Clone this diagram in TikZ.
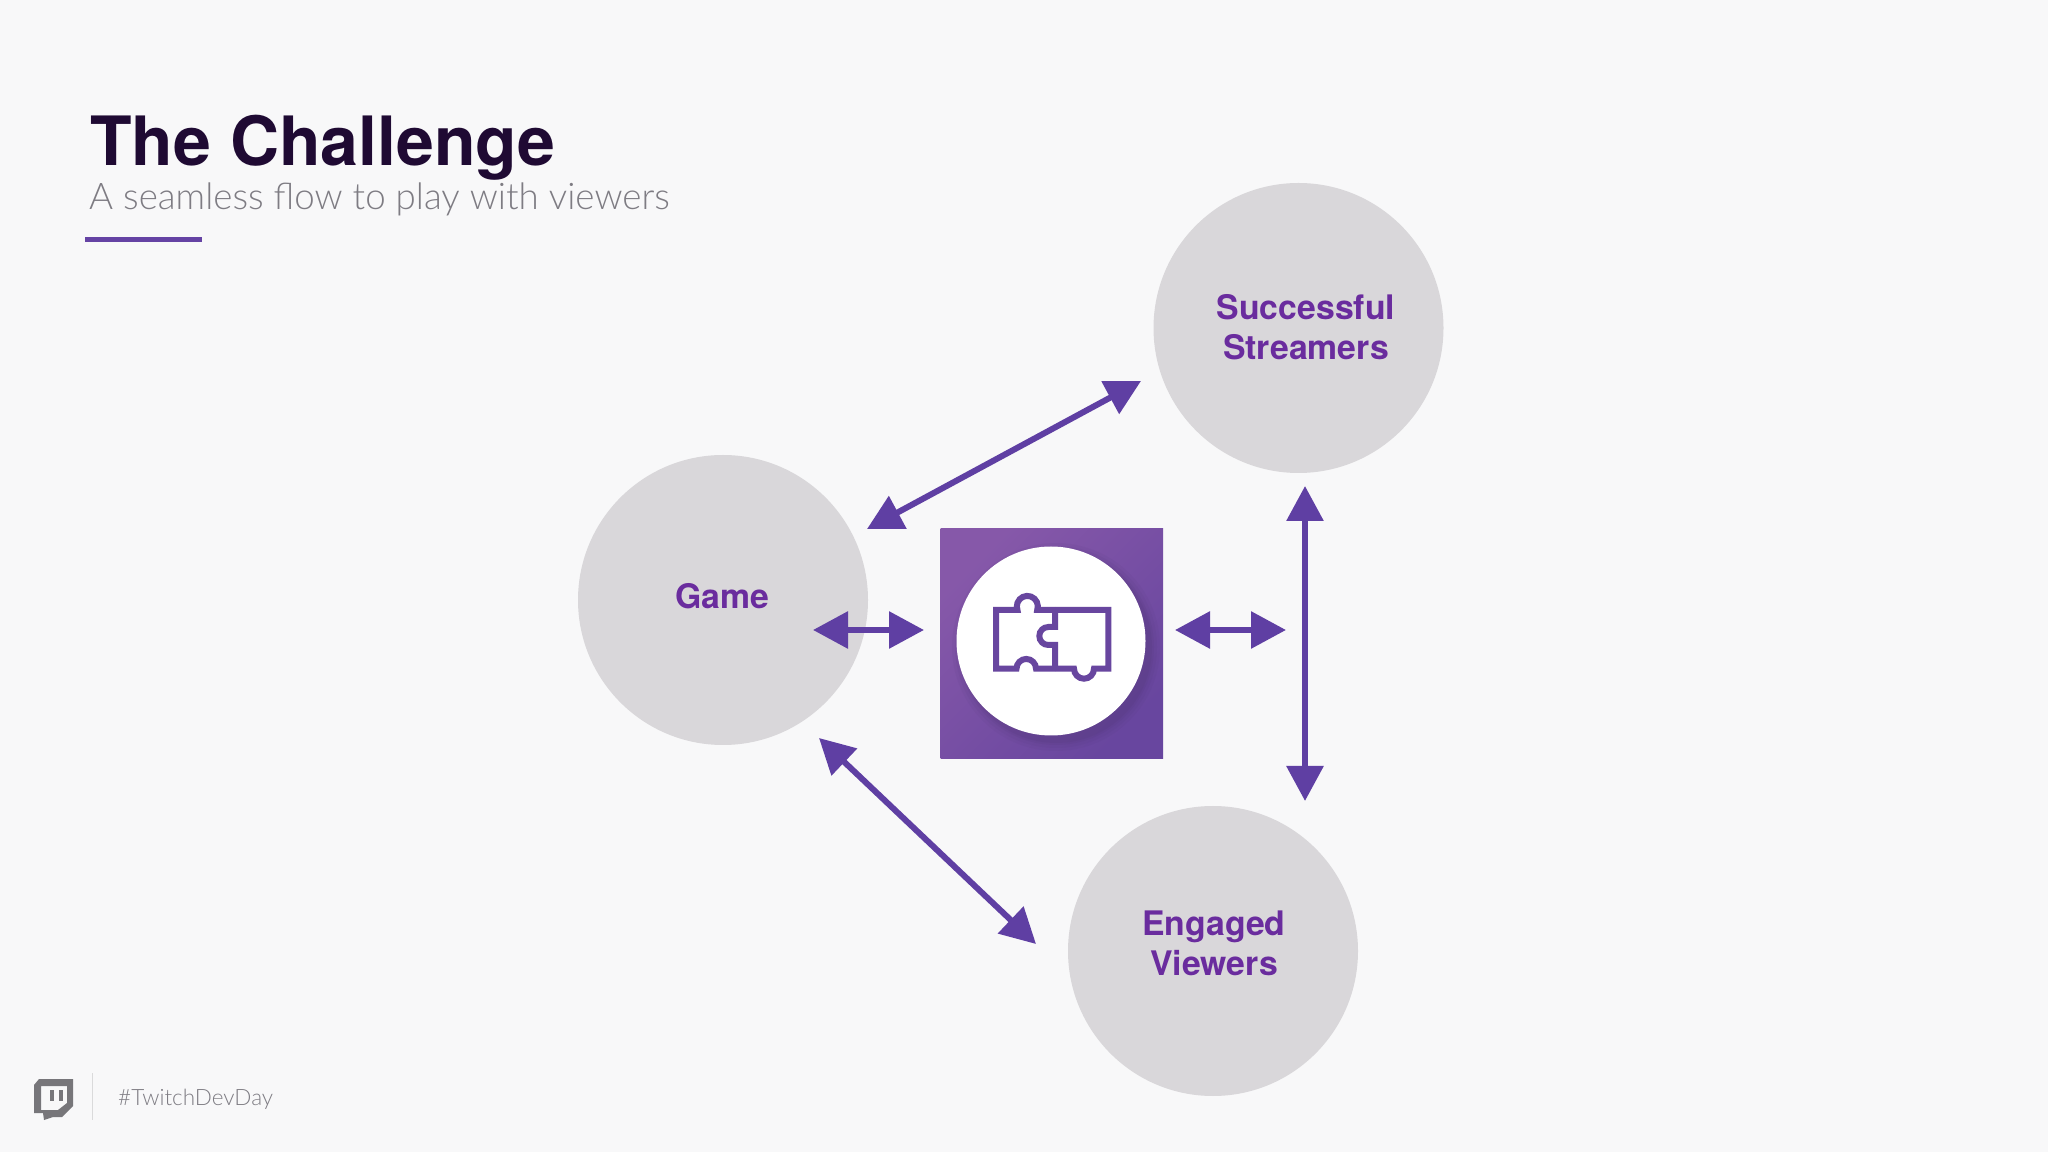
\documentclass[tikz,border=0pt]{standalone}
\usepackage{fontspec}
\setmainfont{TeX Gyre Heros}
\newfontfamily\thinfont{Lato Light}
\usetikzlibrary{arrows.meta}

\definecolor{slidebg}{HTML}{F8F8F9}
\definecolor{titleink}{HTML}{1F0A33}
\definecolor{subink}{HTML}{7E7C83}
\definecolor{bubble}{HTML}{D9D7DA}
\definecolor{labelink}{HTML}{6A2C9E}
\definecolor{flow}{HTML}{5F3FA3}
\definecolor{tileA}{HTML}{8658A9}
\definecolor{tileB}{HTML}{68469F}
\definecolor{logoink}{HTML}{77767A}

\tikzset{
	bubblenode/.style={circle, fill=bubble, minimum size=290pt, inner sep=0pt},
	bubblelabel/.style={align=center, inner sep=0pt, text=labelink, font=\bfseries\fontsize{33.8}{40}\selectfont},
	flowline/.style={draw=flow, line width=6pt, {Triangle[length=35pt,width=36pt]}-{Triangle[length=35pt,width=36pt]}},
	puzzleline/.style={draw=tileB, line width=6pt, line join=miter},
}

\begin{document}
\begin{tikzpicture}[x=1pt, y=1pt]
	\fill[slidebg] (0, 0) rectangle (2048, 1152);
	\useasboundingbox (0, 0) rectangle (2048, 1152);

	% titolo
	\node[anchor=base west, inner sep=0pt, text=titleink, font=\bfseries\fontsize{68}{68}\selectfont] (title) at (90, 986) {The Challenge};
	\node[anchor=base west, inner sep=0pt, text=subink, font=\thinfont\fontsize{36.7}{37}\selectfont] (subtitle) at (89, 942) {A seamless flow to play with viewers};
	\fill[flow!85!tileA] (85, 909.5) rectangle (202, 914.5);

	% cerchi
	\node[bubblenode] (streamers) at (1298.5, 824) {};
	\node[bubblenode] (game) at (723, 552) {};
	\node[bubblenode] (viewers) at (1213, 201) {};
	\node[bubblelabel] (streamersLabel) at (1306, 825) {Successful\\Streamers};
	\node[bubblelabel] (gameLabel) at (722, 556) {Game};
	\node[bubblelabel] (viewersLabel) at (1214, 209) {Engaged\\Viewers};

	% riquadro centrale
	\shade[left color=tileA, right color=tileB, shading angle=45] (940.5, 393) rectangle (1163, 623);
	\foreach \r/\o in {104/0.05, 101/0.06, 98/0.07, 96/0.08}
		\fill[tileB!60!black, opacity=\o] (1056, 505) circle[radius=\r];
	\node[circle, fill=white, minimum size=189pt, inner sep=0pt] (hub) at (1051, 511) {};

	% pezzi
	\draw[puzzleline] (1055, 542) -- (1037.2, 542) arc[start angle=-20, end angle=200, radius=10.5]
		-- (996, 542) -- (996, 483.3) -- (1016.5, 483.3) arc[start angle=180, end angle=0, radius=9.75]
		-- (1055, 483.3);
	\draw[puzzleline] (1055, 542) -- (1108.3, 542) -- (1108.3, 483.3) -- (1094, 483.3)
		arc[start angle=0, end angle=-180, radius=10] -- (1055, 483.3);
	\draw[puzzleline] (1055, 542) -- (1055, 525) -- (1048.3, 525) arc[start angle=90, end angle=270, radius=9]
		-- (1055, 507) -- (1055, 483.3);

	% frecce
	\coordinate (g_s) at (867, 623);
	\coordinate (s_g) at (1141, 771);
	\coordinate (s_v) at (1305, 666);
	\coordinate (v_s) at (1305, 351);
	\coordinate (g_v) at (819, 414);
	\coordinate (v_g) at (1036, 208);
	\coordinate (g_h) at (813, 522);
	\coordinate (h_g) at (924, 522);
	\coordinate (h_r) at (1175, 522);
	\coordinate (r_h) at (1286, 522);
	\draw[flowline] (g_s) -- (s_g);
	\draw[flowline] (s_v) -- (v_s);
	\draw[flowline] (g_v) -- (v_g);
	\draw[flowline] (g_h) -- (h_g);
	\draw[flowline] (h_r) -- (r_h);

	% logo
	\fill[logoink, even odd rule] (39, 1152-1079) -- (73, 1152-1079) -- (73, 1152-1106) -- (62, 1152-1117)
		-- (53, 1152-1117) -- (44, 1152-1120) -- (43, 1152-1113) -- (34, 1152-1113) -- (34, 1152-1085) -- cycle
		(41, 1152-1086) -- (67, 1152-1086) -- (67, 1152-1103) -- (58, 1152-1110) -- (41, 1152-1110) -- cycle;
	\fill[logoink] (50, 1152-1090) rectangle (54, 1152-1101);
	\fill[logoink] (59, 1152-1090) rectangle (63, 1152-1101);
	\draw[slidebg!88!black, line width=0.8pt] (92.5, 1152-1073) -- (92.5, 1152-1120);
	\node[anchor=base west, inner sep=0pt, text=subink, font=\thinfont\fontsize{22.5}{24}\selectfont] (tag) at (118, 1152-1105) {\#TwitchDevDay};
\end{tikzpicture}
\end{document}
